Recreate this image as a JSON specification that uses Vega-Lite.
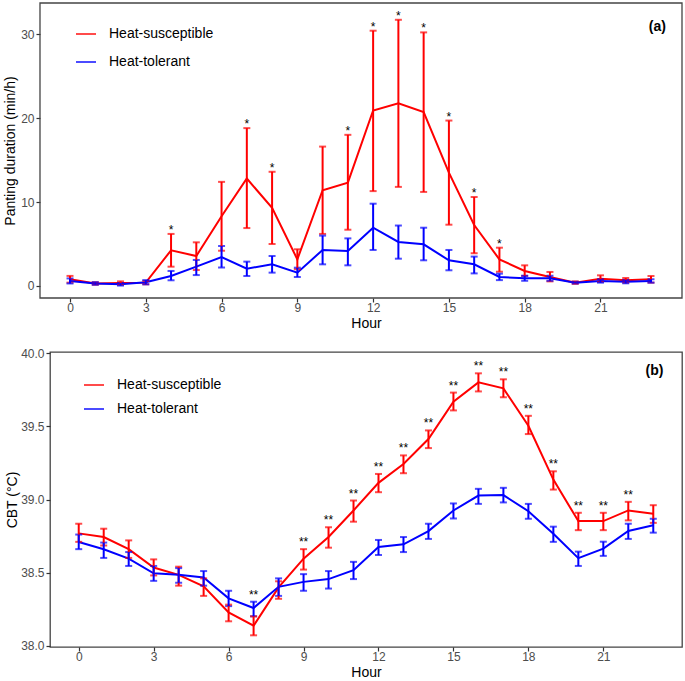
{
  "$schema": "https://vega.github.io/schema/vega-lite/v6.json",
  "padding": {"left": 3, "top": 2, "right": 2, "bottom": 0},
  "background": "white",
  "spacing": 16,
  "resolve": {"legend": {"color": "independent"}},
  "datasets": {
    "a": [
      {"h":0,"g":"Heat-susceptible","m":0.8,"lo":0.4,"hi":1.2},
      {"h":1,"g":"Heat-susceptible","m":0.3,"lo":0.15,"hi":0.45},
      {"h":2,"g":"Heat-susceptible","m":0.35,"lo":0.15,"hi":0.55},
      {"h":3,"g":"Heat-susceptible","m":0.4,"lo":0.2,"hi":0.6},
      {"h":4,"g":"Heat-susceptible","m":4.25,"lo":2.3,"hi":6.2},
      {"h":5,"g":"Heat-susceptible","m":3.57,"lo":1.9,"hi":5.2},
      {"h":6,"g":"Heat-susceptible","m":8.3,"lo":4.2,"hi":12.4},
      {"h":7,"g":"Heat-susceptible","m":12.8,"lo":6.9,"hi":18.8},
      {"h":8,"g":"Heat-susceptible","m":9.3,"lo":5.0,"hi":13.6},
      {"h":9,"g":"Heat-susceptible","m":3.17,"lo":2.0,"hi":4.37},
      {"h":10,"g":"Heat-susceptible","m":11.4,"lo":6.2,"hi":16.6},
      {"h":11,"g":"Heat-susceptible","m":12.3,"lo":6.7,"hi":18.0},
      {"h":12,"g":"Heat-susceptible","m":20.9,"lo":11.3,"hi":30.4},
      {"h":13,"g":"Heat-susceptible","m":21.75,"lo":11.8,"hi":31.7},
      {"h":14,"g":"Heat-susceptible","m":20.7,"lo":11.2,"hi":30.2},
      {"h":15,"g":"Heat-susceptible","m":13.5,"lo":7.3,"hi":19.7},
      {"h":16,"g":"Heat-susceptible","m":7.26,"lo":3.9,"hi":10.6},
      {"h":17,"g":"Heat-susceptible","m":3.17,"lo":1.7,"hi":4.56},
      {"h":18,"g":"Heat-susceptible","m":1.79,"lo":1.2,"hi":2.46},
      {"h":19,"g":"Heat-susceptible","m":1.07,"lo":0.55,"hi":1.67},
      {"h":20,"g":"Heat-susceptible","m":0.4,"lo":0.25,"hi":0.55},
      {"h":21,"g":"Heat-susceptible","m":0.87,"lo":0.5,"hi":1.27},
      {"h":22,"g":"Heat-susceptible","m":0.68,"lo":0.4,"hi":0.95},
      {"h":23,"g":"Heat-susceptible","m":0.8,"lo":0.4,"hi":1.19},
      {"h":0,"g":"Heat-tolerant","m":0.6,"lo":0.3,"hi":0.9},
      {"h":1,"g":"Heat-tolerant","m":0.3,"lo":0.15,"hi":0.45},
      {"h":2,"g":"Heat-tolerant","m":0.2,"lo":0.05,"hi":0.35},
      {"h":3,"g":"Heat-tolerant","m":0.45,"lo":0.2,"hi":0.7},
      {"h":4,"g":"Heat-tolerant","m":1.19,"lo":0.68,"hi":1.79},
      {"h":5,"g":"Heat-tolerant","m":2.3,"lo":1.3,"hi":3.1},
      {"h":6,"g":"Heat-tolerant","m":3.45,"lo":2.2,"hi":4.76},
      {"h":7,"g":"Heat-tolerant","m":2.06,"lo":1.19,"hi":2.9},
      {"h":8,"g":"Heat-tolerant","m":2.58,"lo":1.59,"hi":3.57},
      {"h":9,"g":"Heat-tolerant","m":1.59,"lo":1.07,"hi":2.18},
      {"h":10,"g":"Heat-tolerant","m":4.29,"lo":2.58,"hi":6.0},
      {"h":11,"g":"Heat-tolerant","m":4.17,"lo":2.46,"hi":5.67},
      {"h":12,"g":"Heat-tolerant","m":6.94,"lo":4.29,"hi":9.8},
      {"h":13,"g":"Heat-tolerant","m":5.24,"lo":3.25,"hi":7.2},
      {"h":14,"g":"Heat-tolerant","m":4.96,"lo":3.06,"hi":6.94},
      {"h":15,"g":"Heat-tolerant","m":3.06,"lo":1.87,"hi":4.29},
      {"h":16,"g":"Heat-tolerant","m":2.58,"lo":1.5,"hi":3.5},
      {"h":17,"g":"Heat-tolerant","m":1.07,"lo":0.7,"hi":1.47},
      {"h":18,"g":"Heat-tolerant","m":0.92,"lo":0.62,"hi":1.22},
      {"h":19,"g":"Heat-tolerant","m":0.92,"lo":0.62,"hi":1.22},
      {"h":20,"g":"Heat-tolerant","m":0.4,"lo":0.3,"hi":0.5},
      {"h":21,"g":"Heat-tolerant","m":0.6,"lo":0.4,"hi":0.8},
      {"h":22,"g":"Heat-tolerant","m":0.52,"lo":0.32,"hi":0.72},
      {"h":23,"g":"Heat-tolerant","m":0.6,"lo":0.4,"hi":0.8}
    ],
    "b": [
      {"h":0,"g":"Heat-susceptible","m":38.768,"lo":38.71,"hi":38.834},
      {"h":1,"g":"Heat-susceptible","m":38.743,"lo":38.685,"hi":38.8},
      {"h":2,"g":"Heat-susceptible","m":38.66,"lo":38.6,"hi":38.72},
      {"h":3,"g":"Heat-susceptible","m":38.534,"lo":38.48,"hi":38.59},
      {"h":4,"g":"Heat-susceptible","m":38.484,"lo":38.41,"hi":38.54},
      {"h":5,"g":"Heat-susceptible","m":38.405,"lo":38.34,"hi":38.46},
      {"h":6,"g":"Heat-susceptible","m":38.227,"lo":38.166,"hi":38.28},
      {"h":7,"g":"Heat-susceptible","m":38.136,"lo":38.07,"hi":38.2},
      {"h":8,"g":"Heat-susceptible","m":38.398,"lo":38.32,"hi":38.44},
      {"h":9,"g":"Heat-susceptible","m":38.595,"lo":38.52,"hi":38.66},
      {"h":10,"g":"Heat-susceptible","m":38.743,"lo":38.67,"hi":38.81},
      {"h":11,"g":"Heat-susceptible","m":38.925,"lo":38.848,"hi":38.993},
      {"h":12,"g":"Heat-susceptible","m":39.114,"lo":39.05,"hi":39.175},
      {"h":13,"g":"Heat-susceptible","m":39.243,"lo":39.18,"hi":39.302},
      {"h":14,"g":"Heat-susceptible","m":39.414,"lo":39.352,"hi":39.473},
      {"h":15,"g":"Heat-susceptible","m":39.67,"lo":39.61,"hi":39.732},
      {"h":16,"g":"Heat-susceptible","m":39.802,"lo":39.74,"hi":39.864},
      {"h":17,"g":"Heat-susceptible","m":39.761,"lo":39.7,"hi":39.823},
      {"h":18,"g":"Heat-susceptible","m":39.505,"lo":39.448,"hi":39.573},
      {"h":19,"g":"Heat-susceptible","m":39.136,"lo":39.068,"hi":39.193},
      {"h":20,"g":"Heat-susceptible","m":38.852,"lo":38.79,"hi":38.909},
      {"h":21,"g":"Heat-susceptible","m":38.852,"lo":38.79,"hi":38.909},
      {"h":22,"g":"Heat-susceptible","m":38.925,"lo":38.857,"hi":38.984},
      {"h":23,"g":"Heat-susceptible","m":38.902,"lo":38.84,"hi":38.961},
      {"h":0,"g":"Heat-tolerant","m":38.709,"lo":38.66,"hi":38.76},
      {"h":1,"g":"Heat-tolerant","m":38.659,"lo":38.6,"hi":38.705},
      {"h":2,"g":"Heat-tolerant","m":38.595,"lo":38.545,"hi":38.64},
      {"h":3,"g":"Heat-tolerant","m":38.495,"lo":38.443,"hi":38.545},
      {"h":4,"g":"Heat-tolerant","m":38.484,"lo":38.43,"hi":38.53},
      {"h":5,"g":"Heat-tolerant","m":38.466,"lo":38.41,"hi":38.51},
      {"h":6,"g":"Heat-tolerant","m":38.323,"lo":38.27,"hi":38.375},
      {"h":7,"g":"Heat-tolerant","m":38.257,"lo":38.2,"hi":38.3},
      {"h":8,"g":"Heat-tolerant","m":38.402,"lo":38.34,"hi":38.46},
      {"h":9,"g":"Heat-tolerant","m":38.436,"lo":38.375,"hi":38.489},
      {"h":10,"g":"Heat-tolerant","m":38.455,"lo":38.39,"hi":38.51},
      {"h":11,"g":"Heat-tolerant","m":38.516,"lo":38.455,"hi":38.573},
      {"h":12,"g":"Heat-tolerant","m":38.675,"lo":38.62,"hi":38.723},
      {"h":13,"g":"Heat-tolerant","m":38.693,"lo":38.64,"hi":38.743},
      {"h":14,"g":"Heat-tolerant","m":38.784,"lo":38.73,"hi":38.834},
      {"h":15,"g":"Heat-tolerant","m":38.925,"lo":38.87,"hi":38.973},
      {"h":16,"g":"Heat-tolerant","m":39.027,"lo":38.97,"hi":39.073},
      {"h":17,"g":"Heat-tolerant","m":39.03,"lo":38.98,"hi":39.08},
      {"h":18,"g":"Heat-tolerant","m":38.92,"lo":38.868,"hi":38.97},
      {"h":19,"g":"Heat-tolerant","m":38.766,"lo":38.71,"hi":38.814},
      {"h":20,"g":"Heat-tolerant","m":38.598,"lo":38.545,"hi":38.643},
      {"h":21,"g":"Heat-tolerant","m":38.664,"lo":38.614,"hi":38.711},
      {"h":22,"g":"Heat-tolerant","m":38.784,"lo":38.73,"hi":38.834},
      {"h":23,"g":"Heat-tolerant","m":38.823,"lo":38.773,"hi":38.868}
    ],
    "sa": [
      {"h":4,"top":6.2,"t":"*"},{"h":7,"top":18.8,"t":"*"},{"h":8,"top":13.6,"t":"*"},
      {"h":11,"top":18.0,"t":"*"},{"h":12,"top":30.4,"t":"*"},{"h":13,"top":31.7,"t":"*"},
      {"h":14,"top":30.2,"t":"*"},{"h":15,"top":19.7,"t":"*"},{"h":16,"top":10.6,"t":"*"},
      {"h":17,"top":4.56,"t":"*"}
    ],
    "sb": [
      {"h":7,"top":38.3,"t":"**"},{"h":9,"top":38.66,"t":"**"},{"h":10,"top":38.81,"t":"**"},
      {"h":11,"top":38.993,"t":"**"},{"h":12,"top":39.175,"t":"**"},{"h":13,"top":39.302,"t":"**"},
      {"h":14,"top":39.473,"t":"**"},{"h":15,"top":39.732,"t":"**"},{"h":16,"top":39.864,"t":"**"},
      {"h":17,"top":39.823,"t":"**"},{"h":18,"top":39.573,"t":"**"},{"h":19,"top":39.193,"t":"**"},
      {"h":20,"top":38.909,"t":"**"},{"h":21,"top":38.909,"t":"**"},{"h":22,"top":38.984,"t":"**"}
    ],
    "la": [{"h":23.25,"y":30.8,"t":"(a)"}],
    "lb": [{"h":23.05,"y":39.88,"t":"(b)"}]
  },
  "vconcat": [
    {
      "width": 632,
      "height": 295,
      "view": {"stroke": null},
      "layer": [
        {
          "data": {"values": [{"panel": "a"}]},
          "mark": {"type": "rect", "fill": null, "filled": false, "stroke": "#444444", "strokeWidth": 1.3, "clip": false},
          "encoding": {
            "x": {"datum": -1.188, "type": "quantitative"},
            "x2": {"datum": 24.228},
            "y": {"datum": -1.43, "type": "quantitative"},
            "y2": {"datum": 33.7}
          }
        },
        {
          "data": {"name": "a"},
          "mark": {"type": "line", "strokeWidth": 2},
          "encoding": {
            "x": {"field": "h", "type": "quantitative", "title": "Hour", "scale": {"domain": [-0.792, 24.228], "nice": false, "zero": false}, "axis": {"values": [0,3,6,9,12,15,18,21]}},
            "y": {"field": "m", "type": "quantitative", "title": "Panting duration (min/h)", "scale": {"domain": [-1.43, 33.7], "nice": false, "zero": false}, "axis": {"values": [0,10,20,30], "offset": 10, "titlePadding": 3}},
            "color": {"field": "g", "type": "nominal", "scale": {"domain": ["Heat-susceptible","Heat-tolerant"], "range": ["#FF0000","#0000FF"]},
              "legend": {"orient": "none", "legendX": 25, "legendY": 20, "title": null, "symbolType": "stroke", "symbolSize": 400, "symbolStrokeWidth": 2, "labelFontSize": 14, "labelFont": "Liberation Sans", "labelColor": "black", "labelOffset": 12, "rowPadding": 10, "padding": 0}}
          }
        },
        {
          "data": {"name": "a"},
          "mark": {"type": "errorbar", "thickness": 2, "ticks": {"size": 7, "thickness": 2}},
          "encoding": {
            "x": {"field": "h", "type": "quantitative", "title": "Hour"},
            "y": {"field": "lo", "type": "quantitative", "title": "Panting duration (min/h)"},
            "y2": {"field": "hi"},
            "color": {"field": "g", "type": "nominal"}
          }
        },
        {
          "data": {"name": "sa"},
          "mark": {"type": "text", "fontSize": 12, "font": "Liberation Sans", "color": "black", "baseline": "middle", "dy": -4},
          "encoding": {
            "x": {"field": "h", "type": "quantitative", "title": "Hour"},
            "y": {"field": "top", "type": "quantitative", "title": "Panting duration (min/h)"},
            "text": {"field": "t"}
          }
        },
        {
          "data": {"name": "la"},
          "mark": {"type": "text", "fontSize": 14, "fontWeight": "bold", "font": "Liberation Sans", "color": "black", "baseline": "middle"},
          "encoding": {
            "x": {"field": "h", "type": "quantitative", "title": "Hour"},
            "y": {"field": "y", "type": "quantitative", "title": "Panting duration (min/h)"},
            "text": {"field": "t"}
          }
        }
      ]
    },
    {
      "width": 632,
      "height": 295,
      "layer": [
        {
          "data": {"name": "b"},
          "mark": {"type": "line", "strokeWidth": 2},
          "encoding": {
            "x": {"field": "h", "type": "quantitative", "title": "Hour", "scale": {"domain": [-1.15, 24.15], "nice": false, "zero": false}, "axis": {"values": [0,3,6,9,12,15,18,21]}},
            "y": {"field": "m", "type": "quantitative", "title": "CBT (°C)", "scale": {"domain": [37.99, 40.01], "nice": false, "zero": false}, "axis": {"values": [38,38.5,39,39.5,40], "format": ".1f"}},
            "color": {"field": "g", "type": "nominal", "scale": {"domain": ["Heat-susceptible","Heat-tolerant"], "range": ["#FF0000","#0000FF"]},
              "legend": {"orient": "none", "legendX": 33, "legendY": 22, "title": null, "symbolType": "stroke", "symbolSize": 400, "symbolStrokeWidth": 2, "labelFontSize": 14, "labelFont": "Liberation Sans", "labelColor": "black", "labelOffset": 12, "rowPadding": 6, "padding": 0}}
          }
        },
        {
          "data": {"name": "b"},
          "mark": {"type": "errorbar", "thickness": 2, "ticks": {"size": 7, "thickness": 2}},
          "encoding": {
            "x": {"field": "h", "type": "quantitative", "title": "Hour"},
            "y": {"field": "lo", "type": "quantitative", "title": "CBT (°C)"},
            "y2": {"field": "hi"},
            "color": {"field": "g", "type": "nominal"}
          }
        },
        {
          "data": {"name": "sb"},
          "mark": {"type": "text", "fontSize": 12, "font": "Liberation Sans", "color": "black", "baseline": "middle", "dy": -7},
          "encoding": {
            "x": {"field": "h", "type": "quantitative", "title": "Hour"},
            "y": {"field": "top", "type": "quantitative", "title": "CBT (°C)"},
            "text": {"field": "t"}
          }
        },
        {
          "data": {"name": "lb"},
          "mark": {"type": "text", "fontSize": 14, "fontWeight": "bold", "font": "Liberation Sans", "color": "black", "baseline": "middle"},
          "encoding": {
            "x": {"field": "h", "type": "quantitative", "title": "Hour"},
            "y": {"field": "y", "type": "quantitative", "title": "CBT (°C)"},
            "text": {"field": "t"}
          }
        }
      ]
    }
  ],
  "config": {
    "view": {"stroke": "#444444", "strokeWidth": 1.3},
    "axis": {
      "domain": false, "grid": false,
      "tickColor": "#333333", "tickSize": 4, "tickWidth": 1.2,
      "labelColor": "#4D4D4D", "labelFont": "Liberation Sans", "labelFontSize": 12,
      "labelPadding": 2,
      "titleFont": "Liberation Sans", "titleFontSize": 14, "titleFontWeight": "normal", "titleColor": "black",
      "titlePadding": 1
    },
    "axisX": {"labelPadding": 0, "titlePadding": 3}
  }
}
